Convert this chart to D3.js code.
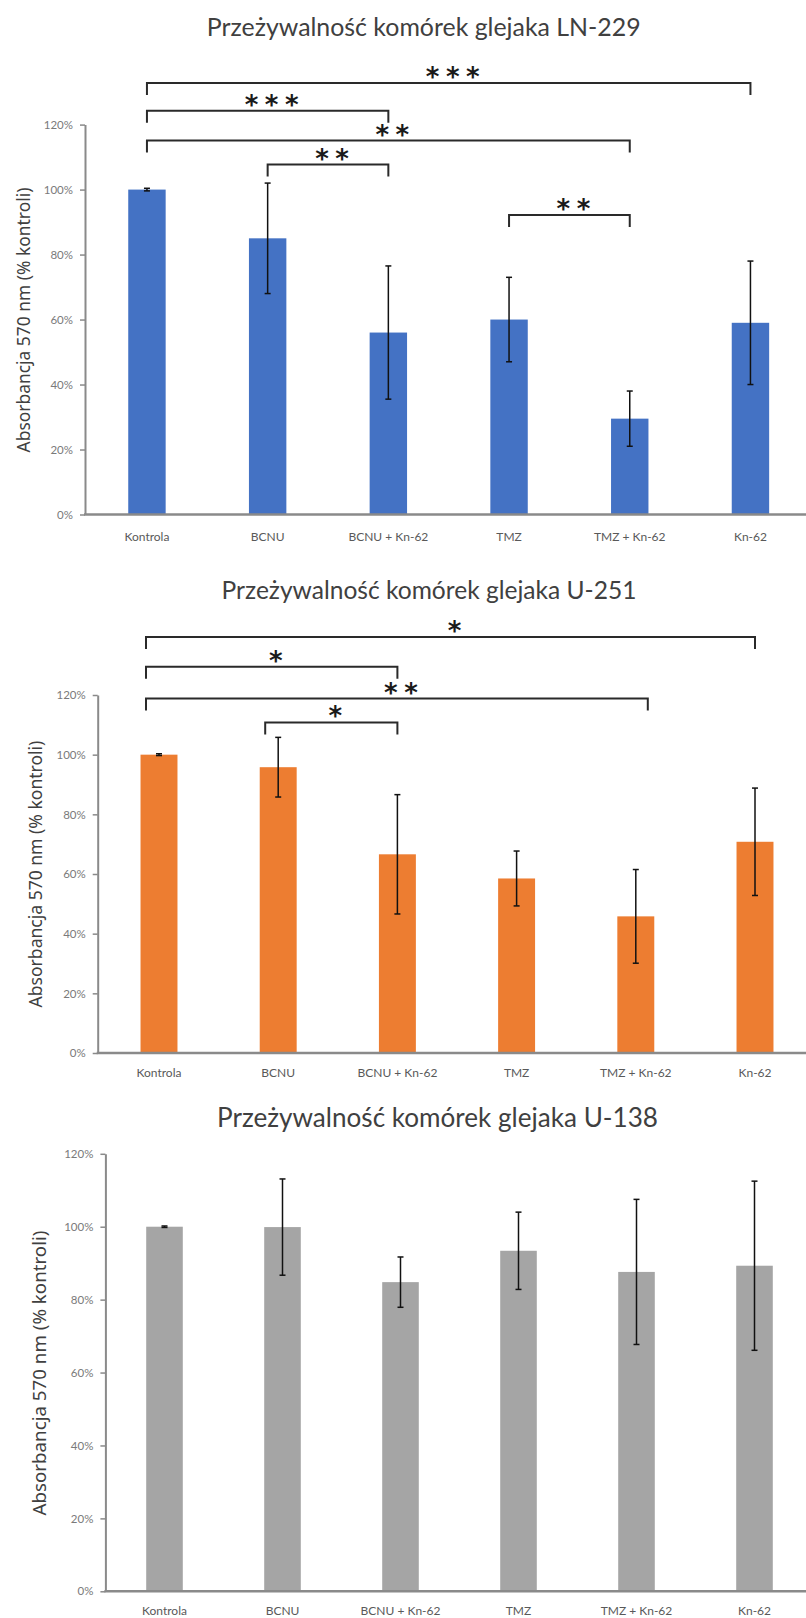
<!DOCTYPE html>
<html>
<head>
<meta charset="utf-8">
<script src="https://cdn.jsdelivr.net/npm/d3@7"></script>
<style>
  html, body { margin: 0; padding: 0; background: #fff; }
  svg { display: block; }
</style>
</head>
<body>
<svg id="chart" width="806" height="1618"></svg>
<script>
// ---------------- DATA ----------------
const categories = ["Kontrola", "BCNU", "BCNU + Kn-62", "TMZ", "TMZ + Kn-62", "Kn-62"];
const yTickValues = [0, 20, 40, 60, 80, 100, 120];
const yAxisTitle = "Absorbancja 570 nm (% kontroli)";

const titleLN229 = "Przeżywalność komórek glejaka LN-229";
const valuesLN229 = [100, 85, 56, 60, 29.5, 59];
const errorsLN229 = [0.4, 17, 20.5, 13, 8.5, 19];
const sigLN229 = [
  { from: "Kontrola", to: "Kn-62", at: 132.8, label: "***" },
  { from: "Kontrola", to: "BCNU + Kn-62", at: 124.3, label: "***" },
  { from: "Kontrola", to: "TMZ + Kn-62", at: 115.1, label: "**" },
  { from: "BCNU", to: "BCNU + Kn-62", at: 107.7, label: "**" },
  { from: "TMZ", to: "TMZ + Kn-62", at: 92.2, label: "**" }
];

const titleU251 = "Przeżywalność komórek glejaka U-251";
const valuesU251 = [100, 95.8, 66.6, 58.5, 45.8, 70.8];
const errorsU251 = [0.3, 10, 20, 9.2, 15.7, 18];
const sigU251 = [
  { from: "Kontrola", to: "Kn-62", at: 139.4, label: "*" },
  { from: "Kontrola", to: "BCNU + Kn-62", at: 129.5, label: "*" },
  { from: "Kontrola", to: "TMZ + Kn-62", at: 118.8, label: "**" },
  { from: "BCNU", to: "BCNU + Kn-62", at: 110.8, label: "*" }
];

const titleU138 = "Przeżywalność komórek glejaka U-138";
const valuesU138 = [100, 99.9, 84.8, 93.4, 87.6, 89.3];
const errorsU138 = [0.2, 13.2, 6.9, 10.6, 19.9, 23.2];
const sigU138 = [];

// ---------------- LAYOUT / STYLE ----------------
const panels = [
  { title: titleLN229, values: valuesLN229, errors: errorsLN229, sig: sigLN229, color: "#4472C4",
    y0: 514.5, yTop: 124.6, axisX: 85, r0: 86.6, r1: 810.8,
    titleCx: 423.7, titleW: 434, titleBase: 36,
    yTitleX: 23, yTitleCy: 320, yTitleW: 265, labelY: 537,
    leftNudge: 0, rightNudge: {} },
  { title: titleU251, values: valuesU251, errors: errorsU251, sig: sigU251, color: "#ED7D31",
    y0: 1053, yTop: 695, axisX: 97.7, r0: 99.4, r1: 814.6,
    titleCx: 429, titleW: 415, titleBase: 599,
    yTitleX: 35, yTitleCy: 874, yTitleW: 267, labelY: 1073,
    leftNudge: -13, rightNudge: { "TMZ + Kn-62": 12 } },
  { title: titleU138, values: valuesU138, errors: errorsU138, sig: sigU138, color: "#A5A5A5",
    y0: 1591.3, yTop: 1153.8, axisX: 105.4, r0: 105.5, r1: 813.5,
    titleCx: 437.5, titleW: 441, titleBase: 1127.4,
    yTitleX: 38.5, yTitleCy: 1373, yTitleW: 285, labelY: 1611,
    leftNudge: 0, rightNudge: {} }
];

const svg = d3.select("#chart");

function fitWidth(sel, target) {
  const fs = parseFloat(sel.attr("font-size"));
  const w = sel.node().getComputedTextLength();
  sel.attr("font-size", (fs * target / w).toFixed(2));
}

panels.forEach(p => {
  const g = svg.append("g");
  const x = d3.scaleBand().domain(categories).range([p.r0, p.r1])
    .paddingInner(0.69).paddingOuter(0.345);
  const y = d3.scaleLinear().domain([0, 120]).range([p.y0, p.yTop]);
  const cx = c => x(c) + x.bandwidth() / 2;

  // title
  const t = g.append("text")
    .attr("x", p.titleCx).attr("y", p.titleBase)
    .attr("text-anchor", "middle")
    .attr("font-family", "Lato, 'Open Sans', sans-serif")
    .attr("font-size", 24).attr("fill", "#404040")
    .text(p.title);
  fitWidth(t, p.titleW);

  // y-axis title
  const yt = g.append("text")
    .attr("transform", `translate(${p.yTitleX},${p.yTitleCy}) rotate(-90)`)
    .attr("text-anchor", "middle").attr("dominant-baseline", "central")
    .attr("font-family", "'Noto Sans', sans-serif")
    .attr("font-size", 16).attr("fill", "#404040")
    .text(yAxisTitle);
  fitWidth(yt, p.yTitleW);

  // bars
  g.selectAll("rect.bar").data(categories).join("rect")
    .attr("class", "bar")
    .attr("x", d => x(d)).attr("width", x.bandwidth())
    .attr("y", (d, i) => y(p.values[i]))
    .attr("height", (d, i) => y(0) - y(p.values[i]))
    .attr("fill", p.color);

  // y axis
  const ya = g.append("g").attr("transform", `translate(${p.axisX},0)`)
    .call(d3.axisLeft(y).tickValues(yTickValues).tickFormat(d => d + "%")
      .tickSize(5).tickSizeOuter(0).tickPadding(7));
  ya.select(".domain").attr("stroke", "#8a8a8a").attr("stroke-width", 2);
  ya.selectAll(".tick line").attr("stroke", "#8a8a8a").attr("stroke-width", 1.5);
  ya.selectAll(".tick text").attr("font-family", "Lato, sans-serif")
    .attr("font-size", 11.5).attr("fill", "#7a7a7a");

  // x axis baseline
  g.append("line").attr("x1", p.axisX - 1).attr("x2", 806)
    .attr("y1", y(0)).attr("y2", y(0))
    .attr("stroke", "#8a8a8a").attr("stroke-width", 2.5);

  // x labels via axis
  const xa = g.append("g").attr("transform", `translate(0,${p.labelY})`)
    .call(d3.axisBottom(x).tickSize(0).tickPadding(0));
  xa.select(".domain").remove();
  xa.selectAll(".tick text").attr("dy", "0.35em").attr("y", 0)
    .attr("font-family", "Lato, sans-serif").attr("font-size", 12)
    .attr("fill", "#595959");

  // error bars
  const eb = g.selectAll("g.err").data(categories).join("g").attr("class", "err");
  eb.append("line")
    .attr("x1", d => cx(d)).attr("x2", d => cx(d))
    .attr("y1", (d, i) => y(p.values[i] + p.errors[i]))
    .attr("y2", (d, i) => y(p.values[i] - p.errors[i]))
    .attr("stroke", "#111").attr("stroke-width", 1.5);
  [1, -1].forEach(s => {
    eb.append("line")
      .attr("x1", d => cx(d) - 3).attr("x2", d => cx(d) + 3)
      .attr("y1", (d, i) => y(p.values[i] + s * p.errors[i]))
      .attr("y2", (d, i) => y(p.values[i] + s * p.errors[i]))
      .attr("stroke", "#111").attr("stroke-width", 1.5);
  });

  // significance brackets
  const drop = 12;
  p.sig.forEach(s => {
    const xl = cx(s.from) + (s.from === "Kontrola" || s.from === "BCNU" ? p.leftNudge : 0);
    const xr = cx(s.to) + (p.rightNudge[s.to] || 0);
    const yy = y(s.at);
    g.append("path")
      .attr("d", `M${xl},${yy + drop}V${yy}H${xr}V${yy + drop}`)
      .attr("fill", "none").attr("stroke", "#2a2a2a").attr("stroke-width", 2);
    const ls = 6.5;
    g.append("text")
      .attr("x", (xl + xr) / 2 + 4 + ls / 2).attr("y", yy + 3)
      .attr("text-anchor", "middle")
      .attr("font-family", "'DejaVu Sans', sans-serif").attr("font-weight", "bold")
      .attr("font-size", 26).attr("letter-spacing", ls)
      .attr("fill", "#1a1a1a")
      .text(s.label);
  });
});
</script>
</body>
</html>
